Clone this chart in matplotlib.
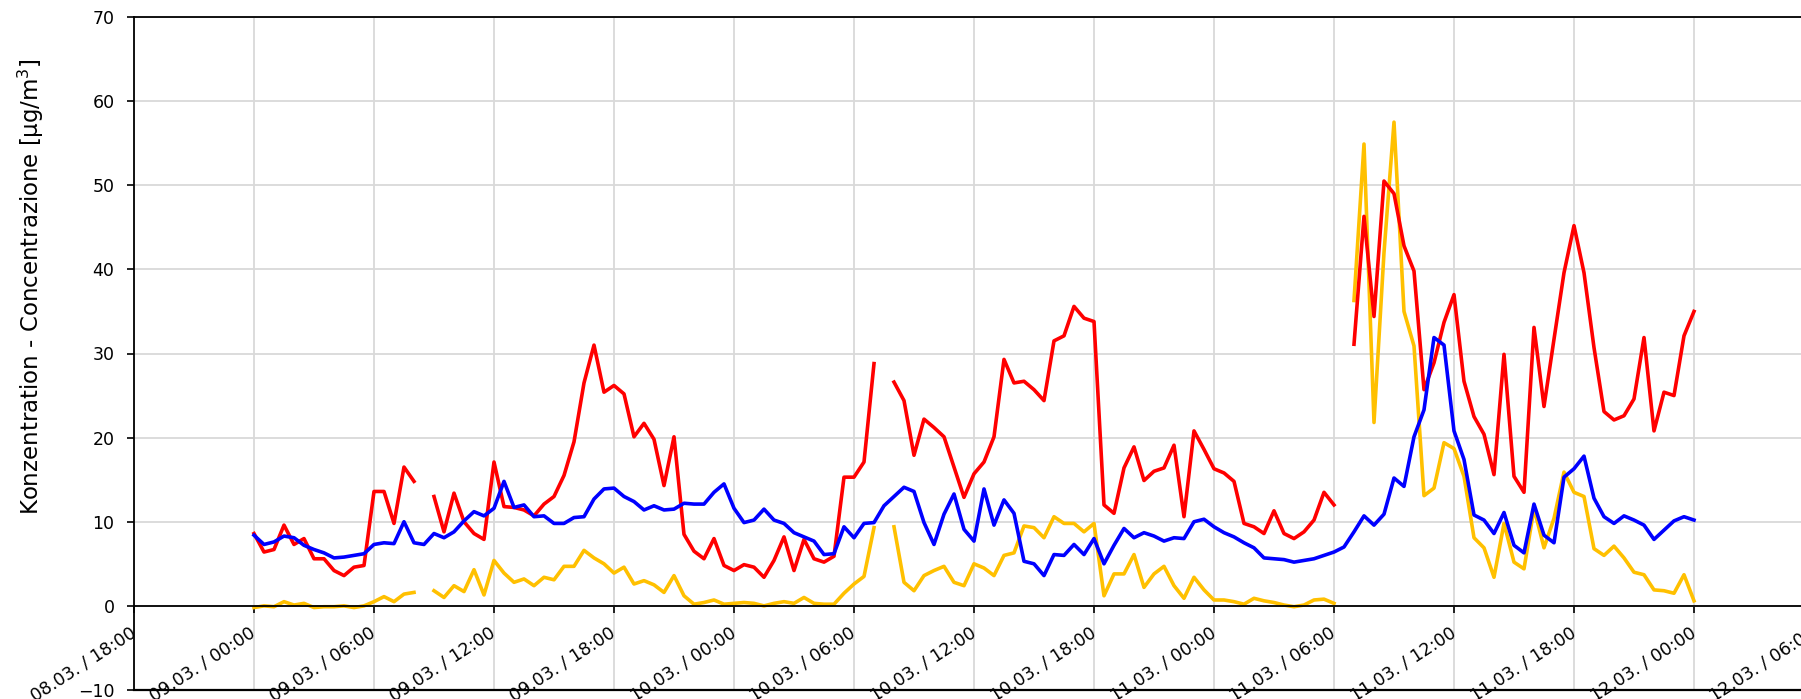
import numpy as np
import pandas as pd
import matplotlib
matplotlib.use("Agg")
import matplotlib.pyplot as plt

nan = np.nan

# half-hourly values, 09.03. 00:00 ... 12.03. 00:00
times = pd.date_range("2022-03-09 00:00", "2022-03-12 00:00", freq="30min")

red = [
    8.6, 6.4, 6.7, 9.6, 7.3, 8.0, 5.6, 5.6, 4.2, 3.6, 4.6, 4.8,
    13.6, 13.6, 9.8, 16.5, 14.8, nan, 13.0, 8.8, 13.4, 10.0, 8.6, 7.9,
    17.1, 11.8, 11.7, 11.4, 10.7, 12.1, 13.0, 15.5, 19.5, 26.5, 31.0, 25.4,
    26.2, 25.2, 20.1, 21.7, 19.8, 14.3, 20.1, 8.5, 6.5, 5.6, 8.0, 4.8,
    4.2, 4.9, 4.6, 3.4, 5.4, 8.2, 4.2, 7.9, 5.6, 5.2, 5.9, 15.3,
    15.3, 17.1, 28.8, nan, 26.6, 24.4, 17.9, 22.2, 21.2, 20.1, 16.5, 12.9,
    15.7, 17.1, 20.1, 29.3, 26.5, 26.7, 25.7, 24.4, 31.5, 32.1, 35.6, 34.2,
    33.8, 12.0, 11.0, 16.4, 18.9, 14.9, 16.0, 16.4, 19.1, 10.6, 20.8, 18.6,
    16.3, 15.8, 14.8, 9.8, 9.4, 8.6, 11.3, 8.6, 8.0, 8.8, 10.2, 13.5,
    12.0, nan, 31.1, 46.3, 34.4, 50.5, 49.0, 42.8, 39.8, 25.7, 28.9, 33.7,
    37.0, 26.7, 22.5, 20.4, 15.6, 29.9, 15.4, 13.5, 33.1, 23.7, 31.7, 39.6,
    45.2, 39.6, 30.7, 23.1, 22.1, 22.6, 24.6, 31.9, 20.8, 25.4, 25.0, 32.1,
    35.0,
]

blue = [
    8.4, 7.3, 7.6, 8.3, 8.1, 7.2, 6.7, 6.3, 5.7, 5.8, 6.0, 6.2,
    7.3, 7.5, 7.4, 10.0, 7.5, 7.3, 8.6, 8.1, 8.8, 10.1, 11.2, 10.7,
    11.6, 14.8, 11.7, 12.0, 10.6, 10.7, 9.8, 9.8, 10.5, 10.6, 12.7, 13.9,
    14.0, 13.0, 12.4, 11.4, 11.9, 11.4, 11.5, 12.2, 12.1, 12.1, 13.5, 14.5,
    11.6, 9.9, 10.2, 11.5, 10.2, 9.8, 8.7, 8.2, 7.7, 6.1, 6.2, 9.4,
    8.1, 9.8, 9.9, 11.9, 13.0, 14.1, 13.6, 9.9, 7.3, 10.9, 13.3, 9.1,
    7.7, 13.9, 9.6, 12.6, 11.0, 5.3, 5.0, 3.6, 6.1, 6.0, 7.3, 6.1,
    8.0, 5.0, 7.2, 9.2, 8.1, 8.7, 8.3, 7.7, 8.1, 8.0, 10.0, 10.3,
    9.4, 8.7, 8.2, 7.5, 6.9, 5.7, 5.6, 5.5, 5.2, 5.4, 5.6, 6.0,
    6.4, 7.0, 8.8, 10.7, 9.6, 10.9, 15.2, 14.2, 20.1, 23.3, 31.9, 31.0,
    20.8, 17.4, 10.8, 10.2, 8.6, 11.1, 7.2, 6.3, 12.1, 8.4, 7.5, 15.3,
    16.3, 17.8, 12.8, 10.6, 9.8, 10.7, 10.2, 9.6, 7.9, 9.0, 10.1, 10.6,
    10.2,
]

yellow = [
    -0.2, 0.0, -0.1, 0.5, 0.1, 0.3, -0.2, -0.1, -0.1, 0.0, -0.2, 0.0,
    0.5, 1.1, 0.5, 1.4, 1.6, nan, 1.8, 1.0, 2.4, 1.7, 4.3, 1.3,
    5.4, 3.9, 2.8, 3.2, 2.4, 3.4, 3.1, 4.7, 4.7, 6.6, 5.7, 5.0,
    3.9, 4.6, 2.6, 3.0, 2.5, 1.6, 3.6, 1.2, 0.2, 0.4, 0.7, 0.2,
    0.3, 0.4, 0.3, 0.0, 0.3, 0.5, 0.3, 1.0, 0.3, 0.2, 0.2, 1.5,
    2.6, 3.5, 9.3, nan, 9.4, 2.8, 1.8, 3.6, 4.2, 4.7, 2.8, 2.4,
    5.0, 4.5, 3.6, 6.0, 6.3, 9.5, 9.3, 8.1, 10.6, 9.8, 9.8, 8.8,
    9.8, 1.2, 3.8, 3.8, 6.1, 2.2, 3.8, 4.7, 2.4, 0.9, 3.4, 1.9,
    0.7, 0.7, 0.5, 0.2, 0.9, 0.6, 0.4, 0.1, -0.1, 0.1, 0.7, 0.8,
    0.3, nan, 36.3, 54.9, 21.8, 42.0, 57.5, 35.0, 30.9, 13.1, 14.0, 19.4,
    18.7, 15.4, 8.1, 6.9, 3.4, 9.8, 5.2, 4.4, 11.6, 6.9, 10.4, 15.9,
    13.5, 13.0, 6.8, 6.0, 7.1, 5.7, 4.0, 3.7, 1.9, 1.8, 1.5, 3.7,
    0.6,
]

tick_times = pd.date_range("2022-03-08 18:00", "2022-03-12 06:00", freq="6h")
tick_labels = [t.strftime("%d.%m. / %H:%M") for t in tick_times]
y_ticks = list(range(-10, 71, 10))
y_label = "Konzentration - Concentrazione [µg/m$^3$]"

W, H = 1801, 699
fig = plt.figure(figsize=(W / 100, H / 100), dpi=100)
ax = fig.add_axes([134 / W, 9 / H, 1680 / W, 673 / H])

ax.plot(times, yellow, color="#FFC000", lw=2.6)
ax.plot(times, red, color="#FF0000", lw=2.6)
ax.plot(times, blue, color="#0000FF", lw=2.6)

ax.set_xlim(tick_times[0], tick_times[-1])
ax.set_ylim(-10, 70)
ax.set_yticks(y_ticks)
ax.set_xticks(tick_times)
ax.set_xticklabels(tick_labels)

ax.grid(True, color="#d9d9d9", lw=1.3)
ax.set_axisbelow(True)

ax.spines["bottom"].set_position(("data", 0))
ax.spines["right"].set_visible(False)
for s in ["bottom", "left", "top"]:
    ax.spines[s].set_linewidth(1.3)
ax.axhline(-10, color="black", lw=1.6, clip_on=False)

ax.tick_params(axis="y", direction="out", length=5, width=1.2, pad=9, labelsize=12.5)
ax.tick_params(axis="x", direction="out", length=5, width=1.2, pad=13, labelsize=12.5)
for lab in ax.get_xticklabels():
    lab.set_rotation(33)
    lab.set_ha("right")
    lab.set_va("center")
    lab.set_rotation_mode("anchor")

fig.text(31 / W, 1 - 287 / H, y_label, rotation=90, ha="center", va="center", fontsize=16.5)

fig.savefig("out.png", dpi=100)
